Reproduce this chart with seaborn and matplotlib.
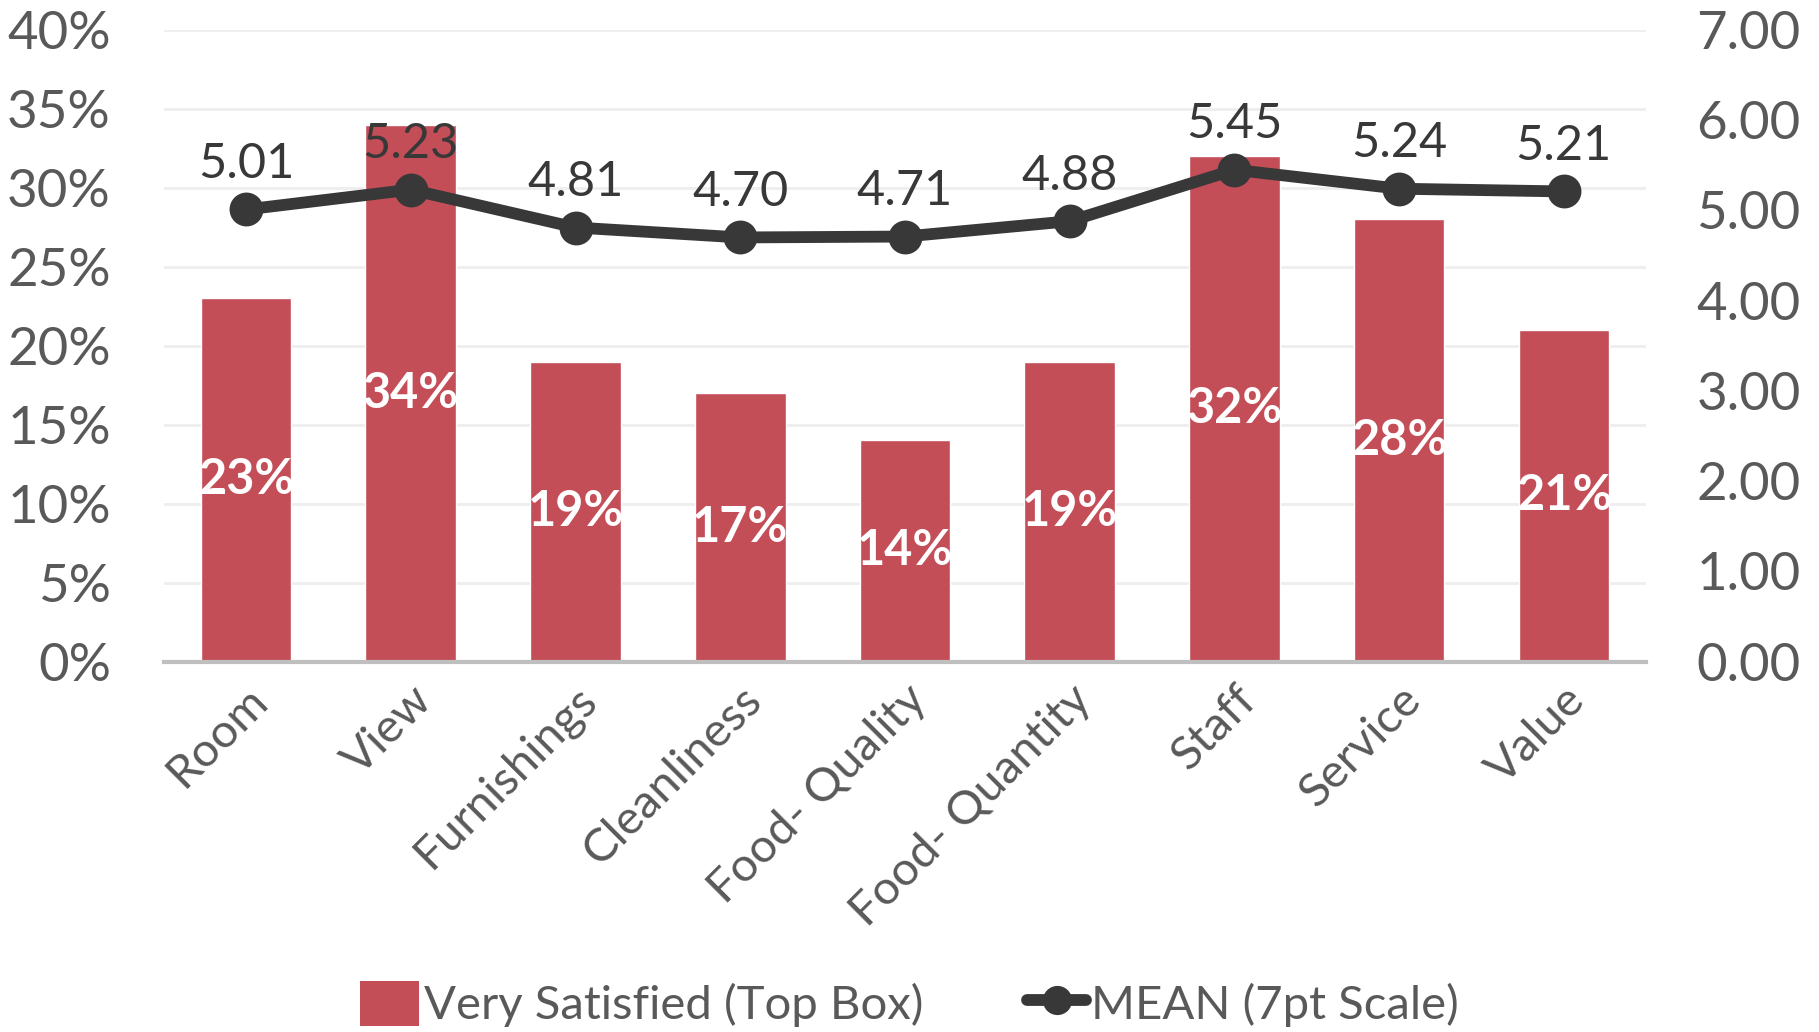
import numpy as np
import pandas as pd
import matplotlib
matplotlib.use("Agg")
import matplotlib.pyplot as plt
from matplotlib.lines import Line2D
from matplotlib.patches import Patch
import seaborn as sns

categories = ["Room", "View", "Furnishings", "Cleanliness", "Food- Quality",
              "Food- Quantity", "Staff", "Service", "Value"]
top_box = [23, 34, 19, 17, 14, 19, 32, 28, 21]
mean_scores = [5.01, 5.23, 4.81, 4.70, 4.71, 4.88, 5.45, 5.24, 5.21]
left_ticks = [0, 5, 10, 15, 20, 25, 30, 35, 40]
right_ticks = [0, 1, 2, 3, 4, 5, 6, 7]

bar_color = "#C44E58"
line_color = "#383838"
text_color = "#595959"

df = pd.DataFrame({"category": categories, "top_box": top_box, "mean": mean_scores})

sns.set_theme(style="white")
plt.rcParams["font.family"] = ["Lato", "DejaVu Sans"]

fig = plt.figure(figsize=(18.19, 10.32), dpi=100)
ax = fig.add_axes([0.090, 0.359, 0.815, 0.612])

sns.barplot(data=df, x="category", y="top_box", color=bar_color, width=0.55,
            saturation=1, ax=ax, zorder=2)
ax.set_ylim(0, 40)
ax.set_xlim(-0.5, len(categories) - 0.5)
ax.set_yticks(left_ticks)
ax.set_yticklabels([f"{t}%" for t in left_ticks])
ax.grid(axis="y", color="#EEEEEE", linewidth=2, zorder=0)
ax.set_axisbelow(True)
for s in ["top", "right", "left"]:
    ax.spines[s].set_visible(False)
ax.spines["bottom"].set_color("#BFBFBF")
ax.spines["bottom"].set_linewidth(3)
ax.set_xlabel("")
ax.set_ylabel("")
ax.tick_params(axis="y", labelsize=38, labelcolor=text_color, length=0, pad=38)
ax.tick_params(axis="x", labelsize=34, labelcolor=text_color, length=0, pad=12)
for lbl in ax.get_xticklabels():
    lbl.set_rotation(45)
    lbl.set_ha("right")
    lbl.set_rotation_mode("anchor")

# white percentage labels centered in each bar
for container in ax.containers:
    ax.bar_label(container, labels=[f"{v}%" for v in top_box], label_type="center",
                 color="white", fontsize=35, fontweight="bold")

ax2 = ax.twinx()
sns.pointplot(data=df, x="category", y="mean", color=line_color, markers="o",
              linestyles="-", ax=ax2, markersize=18, linewidth=8.5, zorder=4)
ax2.set_ylim(0, 7)
ax2.set_xlim(-0.5, len(categories) - 0.5)
ax2.set_yticks(right_ticks)
ax2.set_yticklabels([f"{t:.2f}" for t in right_ticks])
ax2.tick_params(axis="y", labelsize=38, labelcolor=text_color, length=0, pad=36)
ax2.set_ylabel("")
ax2.grid(False)
for s in ["top", "right", "left", "bottom"]:
    ax2.spines[s].set_visible(False)

for i, v in enumerate(mean_scores):
    ax2.annotate(f"{v:.2f}", (i, v), xytext=(0, 17), textcoords="offset points",
                 ha="center", va="bottom", fontsize=35, color=line_color)

handles = [
    Patch(facecolor=bar_color, edgecolor="none", label="Very Satisfied (Top Box)"),
    Line2D([0], [0], color=line_color, lw=8.5, marker="o", markersize=20,
           label="MEAN (7pt Scale)"),
]
fig.legend(handles=handles, loc="center", bbox_to_anchor=(0.5, 0.027), ncol=2,
           frameon=False, fontsize=34, labelcolor=text_color, handlelength=1.25,
           handletextpad=0.1, columnspacing=2.2, handleheight=1.1)

fig.savefig("out.png", dpi=100)
